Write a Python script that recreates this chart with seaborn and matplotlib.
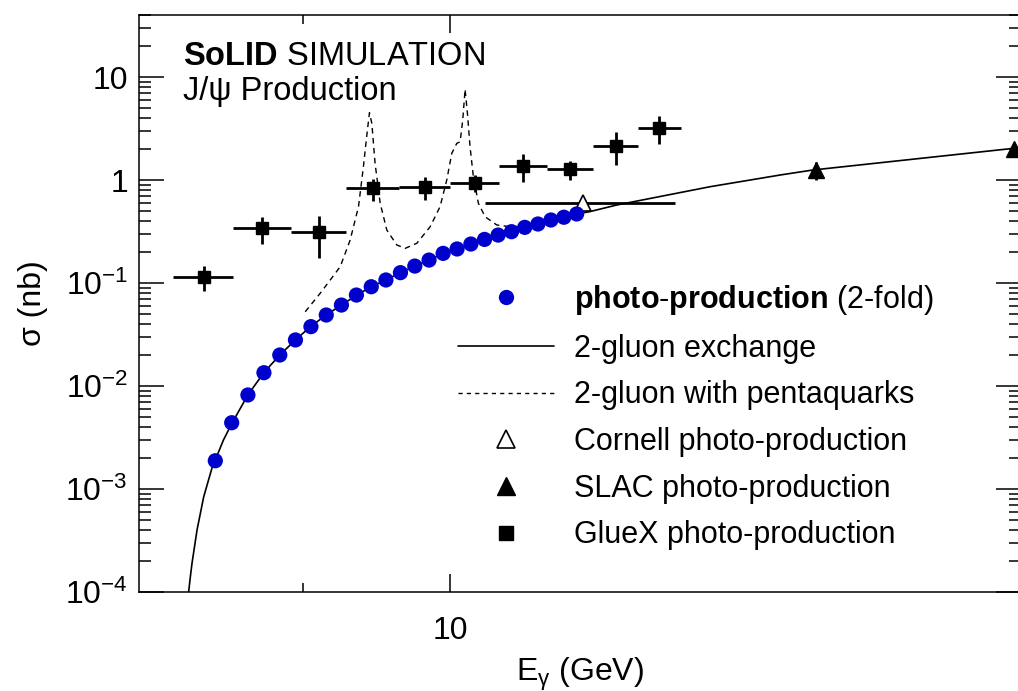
import matplotlib
matplotlib.use("Agg")
import matplotlib.pyplot as plt
from matplotlib.ticker import FixedLocator, FixedFormatter, NullFormatter
from matplotlib.lines import Line2D
import pandas as pd
import seaborn as sns

# ---- data -------------------------------------------------------------
# 2-gluon exchange model (E_gamma in GeV, sigma in nb)
gluon_E = [8.29, 8.30, 8.31, 8.34, 8.38, 8.43, 8.50, 8.55, 8.65, 8.75, 8.85,
           8.95, 9.05, 9.15, 9.25, 9.35, 9.45, 9.55, 9.65, 9.75, 9.85, 9.95,
           10.05, 10.15, 10.25, 10.35, 10.45, 10.55, 10.65, 10.75, 10.85,
           10.95, 11.05, 11.27, 12.05, 12.67, 12.97, 14.98, 15.06]
gluon_sigma = [1.0e-4, 1.4e-4, 1.9e-4, 4.0e-4, 8.4e-4, 1.6e-3, 3.0e-3, 4.3e-3,
               8.2e-3, 1.35e-2, 2.0e-2, 2.8e-2, 3.8e-2, 4.9e-2, 6.1e-2, 7.6e-2,
               9.2e-2, 0.107, 0.126, 0.146, 0.167, 0.194, 0.214, 0.239, 0.265,
               0.292, 0.315, 0.347, 0.374, 0.409, 0.435, 0.468, 0.492, 0.572,
               0.861, 1.118, 1.25, 2.03, 2.07]

# 2-gluon exchange with pentaquark resonances
penta_E = [9.013, 9.110, 9.176, 9.242, 9.308, 9.364, 9.397, 9.424, 9.438, 9.454,
           9.476, 9.511, 9.556, 9.625, 9.683, 9.764, 9.858, 9.928, 9.976, 10.012,
           10.048, 10.072, 10.091, 10.108, 10.125, 10.144, 10.168, 10.205, 10.254,
           10.340, 10.440, 10.55]
penta_sigma = [0.0526, 0.0794, 0.107, 0.144, 0.261, 0.551, 1.346, 3.06, 4.5, 3.55,
               1.45, 0.594, 0.327, 0.234, 0.217, 0.243, 0.352, 0.551, 1.0, 1.816,
               2.27, 2.35, 3.83, 7.6, 4.44, 2.10, 1.077, 0.594, 0.440,
               0.366, 0.352, 0.355]

# SoLID projected photo-production (2-fold)
solid_E = [8.45, 8.55, 8.65, 8.75, 8.85, 8.95, 9.05, 9.15, 9.25, 9.35, 9.45,
           9.55, 9.65, 9.75, 9.85, 9.95, 10.05, 10.15, 10.25, 10.35, 10.45,
           10.55, 10.65, 10.75, 10.85, 10.95]
solid_sigma = [1.88e-3, 4.40e-3, 8.18e-3, 1.346e-2, 2.00e-2, 2.80e-2, 3.77e-2,
               4.89e-2, 6.11e-2, 7.64e-2, 9.20e-2, 0.107, 0.126, 0.146, 0.167,
               0.194, 0.214, 0.239, 0.265, 0.292, 0.315, 0.347, 0.374, 0.409,
               0.435, 0.468]

# GlueX measurement
gluex_E = [8.38, 8.74, 9.10, 9.46, 9.82, 10.18, 10.54, 10.90, 11.26, 11.62]
gluex_sigma = [0.115, 0.340, 0.311, 0.830, 0.861, 0.942, 1.367, 1.27, 2.15, 3.22]
gluex_err = [0.032, 0.10, 0.136, 0.20, 0.22, 0.175, 0.42, 0.265, 0.76, 0.98]
gluex_halfwidth = [0.18] * 10

# Cornell measurement
cornell_E = [11.0]
cornell_sigma = [0.594]
cornell_halfwidth = [0.75]

# SLAC measurement
slac_E = [13.0, 14.98]
slac_sigma = [1.25, 1.98]
slac_err = [0.25, 0.3]

y_tick_values = [1e-4, 1e-3, 1e-2, 1e-1, 1, 10]
y_tick_labels = ["$10^{-4}$", "$10^{-3}$", "$10^{-2}$", "$10^{-1}$", "1", "10"]

# ---- style ------------------------------------------------------------
sns.set_theme(style="ticks")
plt.rcParams["font.family"] = ["Liberation Sans", "DejaVu Sans"]
plt.rcParams["mathtext.fontset"] = "custom"
plt.rcParams["mathtext.rm"] = "Liberation Sans"
plt.rcParams["mathtext.it"] = "Liberation Sans:italic"
plt.rcParams["mathtext.bf"] = "Liberation Sans:bold"
plt.rcParams["mathtext.default"] = "regular"
for key in ["text.color", "axes.labelcolor", "xtick.color", "ytick.color",
            "axes.edgecolor"]:
    plt.rcParams[key] = "black"

W, H = 1018, 691
fig = plt.figure(figsize=(W / 100, H / 100), dpi=100)
ax = fig.add_axes([139 / W, 1 - 592 / H, (1021 - 139) / W, (592 - 15) / H])
ax.set_facecolor("white")
fig.patch.set_facecolor("white")

ax.set_xscale("log")
ax.set_yscale("log")

gluon = pd.DataFrame({"E": gluon_E, "sigma": gluon_sigma})
penta = pd.DataFrame({"E": penta_E, "sigma": penta_sigma})
solid = pd.DataFrame({"E": solid_E, "sigma": solid_sigma})

sns.lineplot(data=gluon, x="E", y="sigma", ax=ax, color="black", lw=1.2,
             sort=False, estimator=None, zorder=2)
sns.lineplot(data=penta, x="E", y="sigma", ax=ax, color="black", lw=1.0,
             linestyle=(0, (4.0, 3.2)), sort=False, estimator=None, zorder=2)

ax.errorbar(gluex_E, gluex_sigma, xerr=gluex_halfwidth, yerr=gluex_err,
            fmt="s", ms=8.5, color="black", elinewidth=2.0, capsize=0, zorder=4)
ax.errorbar(cornell_E, cornell_sigma, xerr=cornell_halfwidth,
            fmt="^", ms=12, mfc="white", mec="black", mew=1.2, color="black",
            elinewidth=2.0, capsize=0, zorder=4)
ax.errorbar(slac_E, slac_sigma, yerr=slac_err, fmt="^", ms=12, color="black",
            elinewidth=2.0, capsize=0, zorder=4)

sns.scatterplot(data=solid, x="E", y="sigma", ax=ax, color="#0000cc", s=120,
                edgecolor="none", linewidth=0, zorder=5)

ax.set_xlim(8.0, 15.06)
ax.set_ylim(1e-4, 40)

ax.xaxis.set_major_locator(FixedLocator([10]))
ax.xaxis.set_major_formatter(FixedFormatter(["10"]))
ax.xaxis.set_minor_locator(FixedLocator([9]))
ax.xaxis.set_minor_formatter(NullFormatter())
ax.yaxis.set_major_locator(FixedLocator(y_tick_values))
ax.yaxis.set_major_formatter(FixedFormatter(y_tick_labels))
ax.yaxis.set_minor_locator(FixedLocator(
    [m * 10.0 ** d for d in range(-4, 2) for m in range(2, 10) if m * 10.0 ** d <= 40]))
ax.yaxis.set_minor_formatter(NullFormatter())

ax.tick_params(which="both", direction="in", top=True, right=True,
               width=1.1, colors="black", labelsize=23)
ax.tick_params(axis="x", which="major", length=13, pad=17)
ax.tick_params(axis="x", which="minor", length=6.5)
ax.tick_params(axis="y", which="major", length=18, pad=8)
ax.tick_params(axis="y", which="minor", length=8.5)
for sp in ax.spines.values():
    sp.set_linewidth(1.1)
    sp.set_color("black")

ax.set_xlabel(r"E$_{\gamma}$ (GeV)", fontsize=23, labelpad=7)
ax.set_ylabel("σ (nb)", fontsize=23, labelpad=12)

ax.text(183 / W, 1 - 65 / H, r"$\mathbf{SoLID}$ SIMULATION", transform=fig.transFigure,
        fontsize=23.5, ha="left", va="baseline")
ax.text(183 / W, 1 - 100 / H, "J/ψ Production", transform=fig.transFigure,
        fontsize=23.5, ha="left", va="baseline")

handles = [
    Line2D([], [], ls="none", marker="o", ms=11, color="#0000cc", mec="none"),
    Line2D([], [], ls="-", lw=1.2, color="black"),
    Line2D([], [], ls=(0, (3.0, 3.0)), lw=1.0, color="black"),
    Line2D([], [], ls="none", marker="^", ms=13, mfc="white", mec="black", mew=1.2),
    Line2D([], [], ls="none", marker="^", ms=13, color="black"),
    Line2D([], [], ls="none", marker="s", ms=9.5, color="black"),
]
labels = [
    r"$\mathbf{photo}$-$\mathbf{production}$ (2-fold)",
    "2-gluon exchange",
    "2-gluon with pentaquarks",
    "Cornell photo-production",
    "SLAC photo-production",
    "GlueX photo-production",
]
ax.legend(handles, labels, loc="upper left", bbox_to_anchor=(458 / W, 1 - 283 / H),
          bbox_transform=fig.transFigure, frameon=False, fontsize=22,
          handlelength=3.15, handletextpad=0.65, labelspacing=0.545,
          borderpad=0, borderaxespad=0)

fig.savefig("out.png", dpi=100, facecolor="white")
